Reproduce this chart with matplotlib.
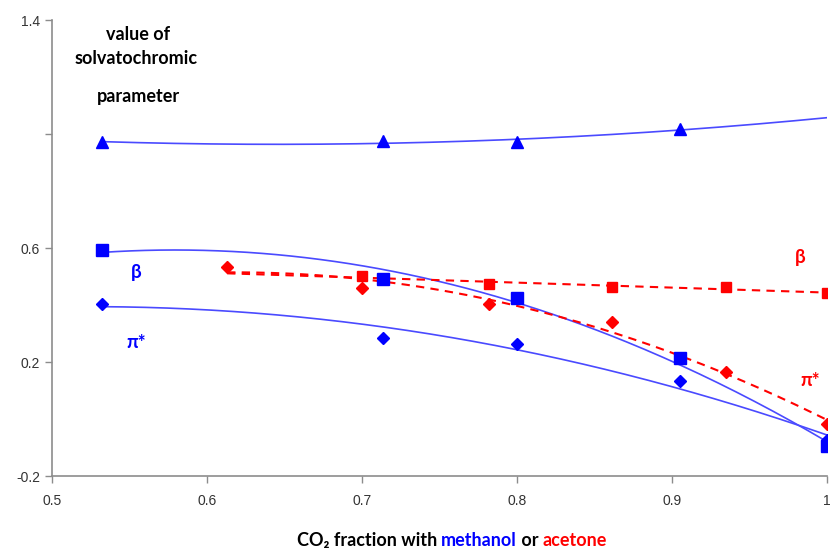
import numpy as np
import matplotlib
matplotlib.use("Agg")
import matplotlib.pyplot as plt
from matplotlib.offsetbox import TextArea, HPacker, AnnotationBbox

# Methanol (blue)
meoh_x = [0.532, 0.7135, 0.8, 0.905, 1.0]
meoh_alpha = [0.972, 0.975, 0.972, 1.017]   # triangles, x = first 4
meoh_beta = [0.593, 0.491, 0.425, 0.214, -0.095]
meoh_pi = [0.404, 0.284, 0.263, 0.133, -0.074]

# Acetone (red)
ace_beta_x = [0.7, 0.782, 0.861, 0.935, 1.0]
ace_beta = [0.502, 0.474, 0.463, 0.463, 0.442]
ace_pi_x = [0.613, 0.7, 0.782, 0.861, 0.935, 1.0]
ace_pi = [0.533, 0.460, 0.404, 0.340, 0.165, -0.018]

yticks = [-0.2, 0.2, 0.6, 1.0, 1.4]
ytick_labels = ["-0.2", "0.2", "0.6", "", "1.4"]
xticks = [0.5, 0.6, 0.7, 0.8, 0.9, 1.0]
xtick_labels = ["0.5", "0.6", "0.7", "0.8", "0.9", "1"]

BLUE = "#0000ff"
BLUE_LINE = "#4a4aff"
RED = "#ff0000"

fig = plt.figure(figsize=(8.37, 5.51), dpi=100)
ax = fig.add_axes([0.0621, 0.1361, 0.9259, 0.8276])

bold_font = ["Lato", "DejaVu Sans"]

def trend(x, y, deg, x0, x1):
    c = np.polyfit(x, y, deg)
    xs = np.linspace(x0, x1, 200)
    return xs, np.polyval(c, xs)

# blue trendlines (polynomial)
xs, ys = trend(meoh_x[:4], meoh_alpha, 2, 0.532, 1.0)
ax.plot(xs, ys, color=BLUE_LINE, lw=1.2)
xs, ys = trend(meoh_x, meoh_beta, 2, 0.532, 1.0)
ax.plot(xs, ys, color=BLUE_LINE, lw=1.2)
xs, ys = trend(meoh_x, meoh_pi, 2, 0.532, 1.0)
ax.plot(xs, ys, color=BLUE_LINE, lw=1.2)

# red dashed trendlines
xs, ys = trend(ace_beta_x, ace_beta, 1, 0.613, 1.0)
ax.plot(xs, ys, color=RED, lw=1.5, ls=(0, (4, 3)))
xs, ys = trend(ace_pi_x, ace_pi, 2, 0.613, 1.0)
ax.plot(xs, ys, color=RED, lw=1.5, ls=(0, (4, 3)))

# markers
ax.plot(meoh_x[:4], meoh_alpha, ls="none", marker="^", ms=9, color=BLUE, zorder=5)
ax.plot(meoh_x, meoh_beta, ls="none", marker="s", ms=9, color=BLUE, zorder=5)
ax.plot(meoh_x, meoh_pi, ls="none", marker="D", ms=6, color=BLUE, zorder=5)
ax.plot(ace_beta_x, ace_beta, ls="none", marker="s", ms=7, color=RED, zorder=5)
ax.plot(ace_pi_x, ace_pi, ls="none", marker="D", ms=6, color=RED, zorder=5)

ax.set_xlim(0.5, 1.0)
ax.set_ylim(-0.2, 1.4)
ax.set_xticks(xticks)
ax.set_xticklabels(xtick_labels)
ax.set_yticks(yticks)
ax.set_yticklabels(ytick_labels)
for s in ["top", "right"]:
    ax.spines[s].set_visible(False)
for s in ["left", "bottom"]:
    ax.spines[s].set_color("#8c8c8c")
    ax.spines[s].set_linewidth(1.2)
ax.tick_params(colors="#8c8c8c", labelcolor="#333333", labelsize=10,
               length=5, width=1, direction="out")
for lbl in ax.get_xticklabels() + ax.get_yticklabels():
    lbl.set_family(["Liberation Sans", "DejaVu Sans"])
ax.tick_params(axis="x", pad=8)

# annotations
fs_t = 13
ax.text(0.5555, 1.35, "value of", ha="center", va="center", fontsize=fs_t,
        fontweight="bold", family=bold_font)
ax.text(0.5545, 1.265, "solvatochromic", ha="center", va="center", fontsize=fs_t,
        fontweight="bold", family=bold_font)
ax.text(0.5555, 1.13, "parameter", ha="center", va="center", fontsize=fs_t,
        fontweight="bold", family=bold_font)

ax.text(0.5545, 0.515, "β", color=BLUE, fontsize=13.5, fontweight="bold",
        ha="center", va="center", family=bold_font)
ax.text(0.5545, 0.27, "π*", color=BLUE, fontsize=13.5, fontweight="bold",
        ha="center", va="center", family=bold_font)
ax.text(0.9825, 0.565, "β", color=RED, fontsize=13.5, fontweight="bold",
        ha="center", va="center", family=bold_font)
ax.text(0.9895, 0.135, "π*", color=RED, fontsize=13.5, fontweight="bold",
        ha="center", va="center", family=bold_font)

# x label with coloured words
prop = dict(fontsize=13, fontweight="bold", family=bold_font)
parts = [("CO₂ fraction with ", "black"), ("methanol", BLUE),
         (" or ", "black"), ("acetone", RED)]
areas = [TextArea(s, textprops=dict(color=c, **prop)) for s, c in parts]
box = HPacker(children=areas, align="baseline", pad=0, sep=0)
ab = AnnotationBbox(box, (452 / 837, 1 - 541 / 551), xycoords="figure fraction",
                    frameon=False, box_alignment=(0.5, 0.5))
fig.add_artist(ab)

fig.savefig("out.png", dpi=100)
